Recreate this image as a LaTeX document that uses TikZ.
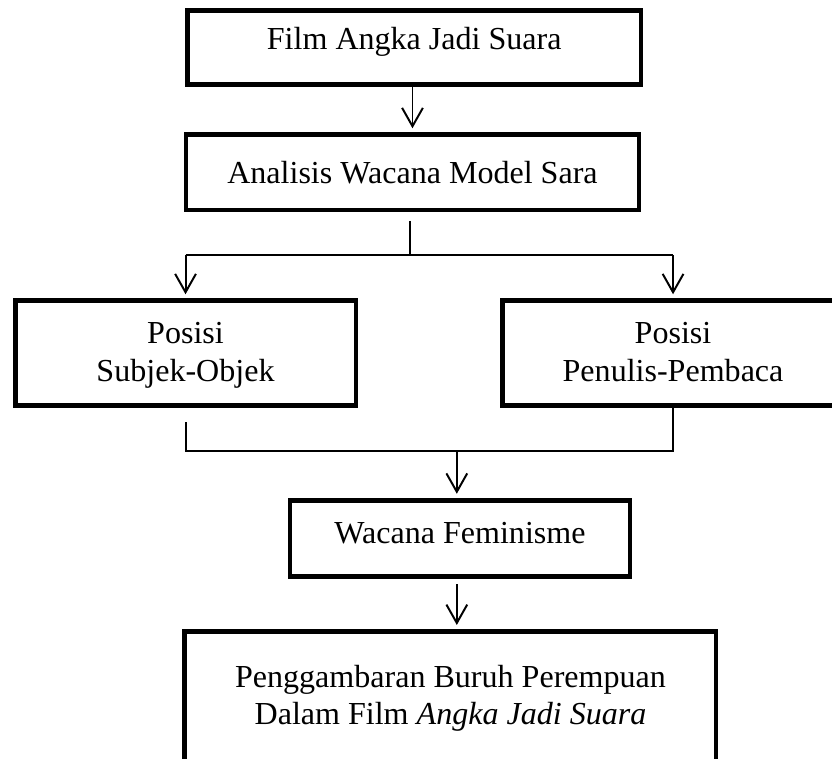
\documentclass[tikz,border=0pt]{standalone}
\usepackage{fontspec}
\setmainfont{Liberation Serif}
\usetikzlibrary{arrows.meta,positioning}

\begin{document}
\begin{tikzpicture}[
  kotak/.style={draw,line width=1.7pt,align=center,inner sep=0pt,
    font=\fontsize{11.4}{13.3}\selectfont},
  garis/.style={line width=0.7pt},
  panah/.style={garis,-{Straight Barb[length=2.3mm,width=2.6mm]},shorten >=1.5pt}]
\useasboundingbox (0,0) rectangle (10.4,-9.475);
\node[kotak,minimum width=5.67cm,minimum height=0.925cm,text depth=6.5pt] (film) at (5.178,-0.594) {Film Angka Jadi Suara};
\node[kotak,minimum width=5.66cm,minimum height=0.94cm] (analisis) at (5.156,-2.156) {Analisis Wacana Model Sara};
\node[kotak,minimum width=4.26cm,minimum height=1.31cm,text depth=1pt] (subjek) at (2.319,-4.416) {Posisi\\Subjek-Objek};
\node[kotak,minimum width=4.26cm,minimum height=1.31cm,text depth=1pt] (penulis) at (8.413,-4.416) {Posisi\\Penulis-Pembaca};
\node[kotak,minimum width=4.25cm,minimum height=0.95cm,text depth=4pt] (wacana) at (5.75,-6.73) {Wacana Feminisme};
\node[kotak,minimum width=6.64cm,minimum height=1.67cm] (gambaran) at (5.631,-8.73) {Penggambaran Buruh Perempuan\\Dalam Film \textit{Angka Jadi Suara}};
\coordinate (cabang) at (5.125,-3.19);
\coordinate (gabung) at (5.71,-5.64);
\draw[panah] (film.south -| analisis.north) -- (analisis.north);
\draw[garis,shorten <=3pt] (analisis.south -| cabang) -- (cabang);
\draw[garis] (cabang -| subjek) -- (cabang -| penulis);
\draw[panah] (cabang -| subjek) -- (subjek);
\draw[panah] (cabang -| penulis) -- (penulis);
\draw[garis,shorten <=5pt] (subjek) -- (gabung -| subjek) -- (gabung -| penulis) -- (penulis);
\draw[panah] (gabung) -- (gabung |- wacana.north);
\draw[panah,shorten <=2pt] (wacana.south -| gabung) -- (gabung |- gambaran.north);
\end{tikzpicture}
\end{document}
